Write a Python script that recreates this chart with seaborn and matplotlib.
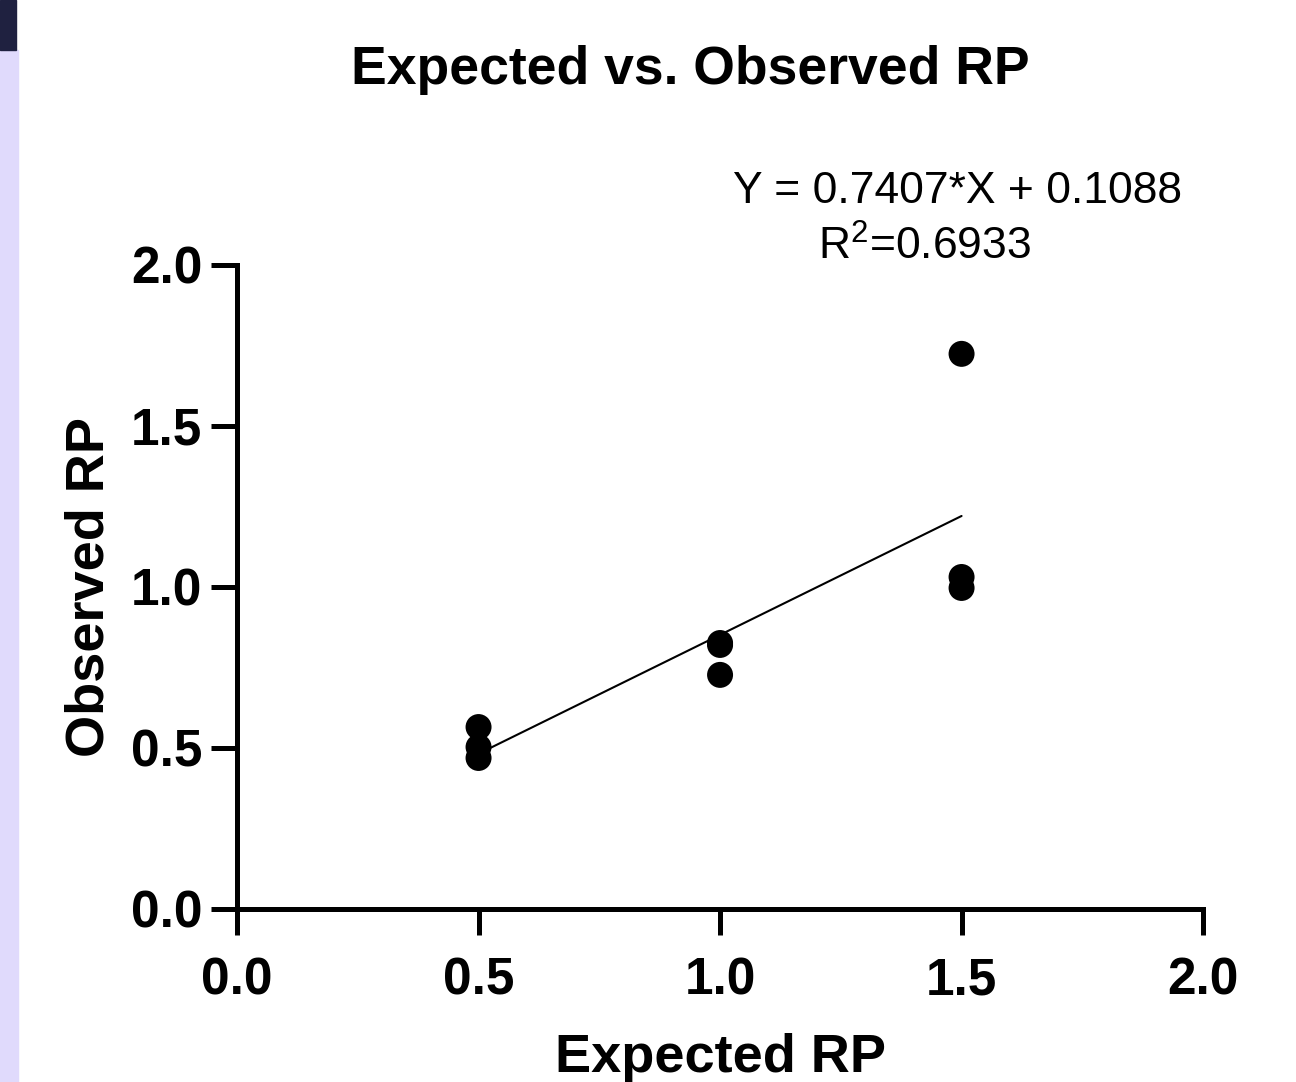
import numpy as np
import pandas as pd
import matplotlib
matplotlib.use("Agg")
import matplotlib.pyplot as plt
import seaborn as sns
from matplotlib.patches import Rectangle

# данные
expected = [0.5, 0.5, 0.5, 1.0, 1.0, 1.0, 1.5, 1.5, 1.5]
observed = [0.565, 0.503, 0.469, 0.826, 0.82, 0.727, 1.724, 1.031, 0.997]
ticks = [0.0, 0.5, 1.0, 1.5, 2.0]
tick_labels = ["0.0", "0.5", "1.0", "1.5", "2.0"]
eq_text = "Y = 0.7407*X + 0.1088"
r2_text = "R$^2$=0.6933"

df = pd.DataFrame({"Expected RP": expected, "Observed RP": observed})

sns.set_style("ticks")
plt.rcParams['font.family'] = ['Liberation Sans', 'DejaVu Sans']
plt.rcParams['mathtext.fontset'] = 'custom'
plt.rcParams['mathtext.rm'] = 'Liberation Sans'
plt.rcParams['text.color'] = 'black'
plt.rcParams['axes.labelcolor'] = 'black'
plt.rcParams['xtick.color'] = 'black'
plt.rcParams['ytick.color'] = 'black'

fig = plt.figure(figsize=(12.96, 10.82), dpi=100)
ax = fig.add_axes([0.1829, 0.1599, 0.7454, 0.5952])

sns.regplot(data=df, x="Expected RP", y="Observed RP", ax=ax, ci=None, truncate=True,
            scatter_kws=dict(s=350, color="black", edgecolor="none", alpha=1),
            line_kws=dict(color="black", linewidth=1.5))

ax.set_xlim(0, 2)
ax.set_ylim(0, 2)
ax.set_xticks(ticks)
ax.set_xticklabels(tick_labels, fontsize=37, fontweight="bold")
ax.set_yticks(ticks)
ax.set_yticklabels(tick_labels, fontsize=37, fontweight="bold")
ax.tick_params(axis="both", length=19, width=3.6, color="black")
ax.tick_params(axis="x", pad=15)
ax.tick_params(axis="y", pad=6)
sns.despine(ax=ax)
for side in ["left", "bottom"]:
    ax.spines[side].set_linewidth(3.6)
    ax.spines[side].set_color("black")
    ax.spines[side].set_capstyle("projecting")

ax.set_xlabel("Expected RP", fontsize=39, fontweight="bold", labelpad=20)
ax.set_ylabel("Observed RP", fontsize=39, fontweight="bold", labelpad=12)

ax.text(1.4917, 2.193, eq_text, fontsize=32, ha="center", va="baseline", clip_on=False)
ax.text(1.424, 2.016, r2_text, fontsize=32, ha="center", va="baseline", clip_on=False)

fig.text(0.533, 1 - 84 / 1082, "Expected vs. Observed RP", fontsize=38.5,
         fontweight="bold", ha="center", va="baseline")

# полоска слева как на скриншоте
fig.patches.append(Rectangle((0, 0), 18 / 1296, 1 - 50 / 1082, transform=fig.transFigure,
                             color="#e0dafc", zorder=0))
fig.patches.append(Rectangle((0, 1 - 50 / 1082), 16 / 1296, 50 / 1082, transform=fig.transFigure,
                             color="#1f2140", zorder=0))

fig.savefig("out.png", dpi=100)
